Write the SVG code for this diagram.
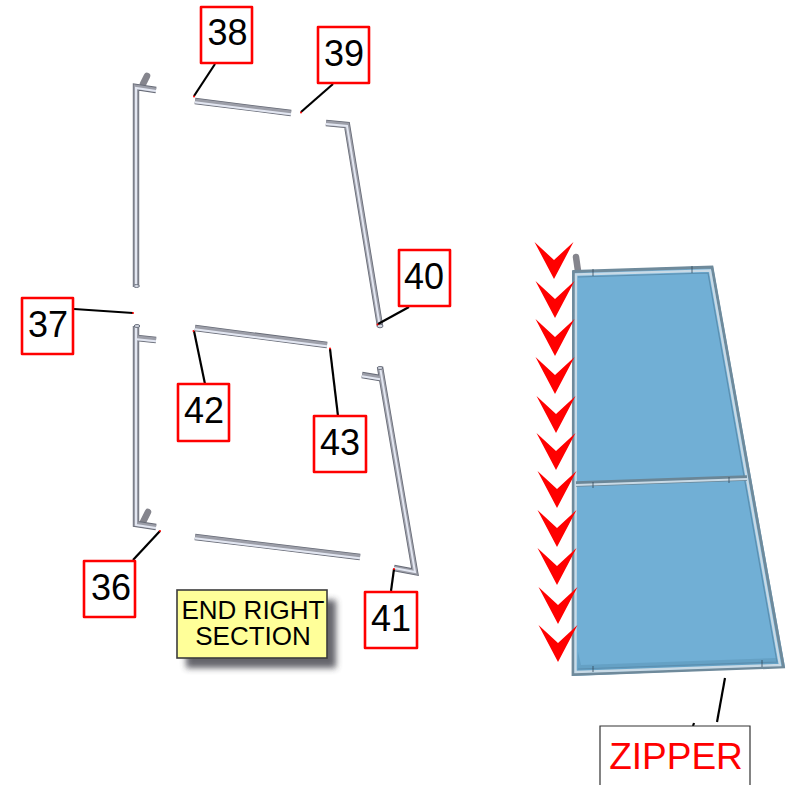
<svg xmlns="http://www.w3.org/2000/svg" width="794" height="785" viewBox="0 0 794 785">
<defs>
<filter id="sh" x="-20%" y="-20%" width="140%" height="150%"><feGaussianBlur stdDeviation="3"/></filter>
<path id="chev" d="M-19.500,-37 L0,-19 L19.500,-37 L0,0 Z" fill="#ff0000"/>
<g id="t1"><path d="M136,287 V87 L156,90"/></g>
<g id="t2"><path d="M195,101 L291,113"/></g>
<g id="t3"><path d="M326,123 L347,125 L380,326"/></g>
<g id="t4"><path d="M136,326 V524 L156,527"/></g>
<g id="t5"><path d="M137,338 L156,340"/></g>
<g id="t6"><path d="M195,328 L327,345"/></g>
<g id="t7"><path d="M380,367 L415,572 L394,568"/></g>
<g id="t8"><path d="M362,375 L380,378"/></g>
<g id="t9"><path d="M195,537 L360,557"/></g>
</defs>
<style>
.box{fill:#fff;stroke:#ff0000;stroke-width:2.6;stroke-linejoin:round}
.num{font-family:"Liberation Sans",Arial,sans-serif;font-size:36px;fill:#000;text-anchor:middle}
.lead{stroke:#000;stroke-width:2.2;fill:none}
.tO{stroke:#666a76;stroke-width:6.400;fill:none;stroke-linejoin:miter}
.tM{stroke:#9c9ea8;stroke-width:4.800;fill:none;stroke-linejoin:miter}
.tI{stroke:#e3e7f2;stroke-width:2;fill:none;stroke-linejoin:miter}
.rod{stroke:#85858d;stroke-width:6.5;fill:none;stroke-linecap:round}
.cap{fill:#d5d9e3;stroke:#6d7280;stroke-width:1}
.tip{fill:#ff0000}
</style>
<g id="parts">
<path class="rod" d="M143,84 L147,76"/>
<path class="rod" d="M143,522 L148,512"/>
<g class="tO"><use href="#t1"/><use href="#t2"/><use href="#t3"/><use href="#t4"/><use href="#t5"/><use href="#t6"/><use href="#t7"/><use href="#t8"/><use href="#t9"/></g>
<g class="tM"><use href="#t1"/><use href="#t2"/><use href="#t3"/><use href="#t4"/><use href="#t5"/><use href="#t6"/><use href="#t7"/><use href="#t8"/><use href="#t9"/></g>
<g class="tI"><use href="#t1" y="1"/><use href="#t2" y="1.300"/><use href="#t3" y="1"/><use href="#t4" y="1"/><use href="#t5" y="1.300"/><use href="#t6" y="1.300"/><use href="#t7" y="0"/><use href="#t8" y="1.300"/><use href="#t9" y="1.300"/></g>
<ellipse class="cap" cx="137" cy="326" rx="2.800" ry="1.500"/>
<ellipse class="cap" cx="380" cy="368" rx="2.800" ry="1.500"/>
<ellipse class="cap" cx="380" cy="326" rx="3" ry="1.800"/>
<ellipse class="cap" cx="136.500" cy="286" rx="2.800" ry="1.500"/>
</g>
<g id="connectors">
<path class="lead" d="M215,64 L194,96"/>
<path class="lead" d="M333,84 L301,112"/>
<path class="lead" d="M409,307 L378,324"/>
<path class="lead" d="M74,309 L133,313"/>
<path class="lead" d="M205,384 L194,331"/>
<path class="lead" d="M338,416 L330,349"/>
<path class="lead" d="M133,560 L160,531"/>
<path class="lead" d="M391,591 L394,569"/>
<path class="lead" d="M717,722 L725,678" stroke-width="1.600"/>
<path class="lead" d="M693,726 L694,723" stroke-width="1"/>
<circle class="tip" cx="194" cy="96.500" r="1"/><circle class="tip" cx="301" cy="112.500" r="1"/><circle class="tip" cx="377.500" cy="324.500" r="1"/><circle class="tip" cx="133" cy="313" r="1"/><circle class="tip" cx="193.500" cy="331" r="1"/><circle class="tip" cx="330" cy="348.500" r="1"/><circle class="tip" cx="160" cy="531" r="1"/><circle class="tip" cx="394" cy="569" r="1"/>
</g>
<g id="n38"><rect class="box" x="201" y="7" width="51" height="56"/><text class="num" x="227.500" y="45">38</text></g>
<g id="n39"><rect class="box" x="318" y="27" width="51" height="56"/><text class="num" x="344" y="66">39</text></g>
<g id="n40"><rect class="box" x="399" y="250" width="51" height="56"/><text class="num" x="424" y="289">40</text></g>
<g id="n37"><rect class="box" x="22" y="298" width="51" height="56"/><text class="num" x="48" y="337">37</text></g>
<g id="n42"><rect class="box" x="178" y="384" width="51" height="57"/><text class="num" x="204" y="423">42</text></g>
<g id="n43"><rect class="box" x="314" y="416" width="52" height="56"/><text class="num" x="340" y="455">43</text></g>
<g id="n36"><rect class="box" x="84" y="561" width="51" height="56"/><text class="num" x="111" y="600">36</text></g>
<g id="n41"><rect class="box" x="365" y="592" width="52" height="56"/><text class="num" x="391" y="631">41</text></g>
<g id="label-end">
<rect x="186" y="600" width="150" height="68" fill="#33333a" opacity=".75" filter="url(#sh)"/>
<rect x="177" y="590" width="150" height="68" fill="#ffff99" stroke="#3c3c3c" stroke-width="1.600"/>
<text font-family="Liberation Sans, Arial, sans-serif" font-size="26" text-anchor="middle"><tspan x="253" y="619">END RIGHT</tspan><tspan x="253" y="645">SECTION</tspan></text>
</g>
<g id="panel">
<path d="M578,271 L576,257" stroke="#85858d" stroke-width="6.500" stroke-linecap="round" fill="none"/>
<path d="M572,271 L713,266 L785,667 L572,676 Z" fill="#71afd5"/>
<path d="M577,672 L578,652 L581,665 L776,658 L780,667 Z" fill="#5b95b8" opacity=".55"/>
<path d="M573.500,271.500 L712,267 L783.500,667 L573,674.500 Z" fill="none" stroke="#6f8a9b" stroke-width="2.800"/>
<path d="M576,274.500 L710,270.500 L780,665 L575.500,672 Z" fill="none" stroke="#c9dae6" stroke-width="2.400"/>
<path d="M578,277 L708,273 L777,662 L578,669" fill="none" stroke="#5b8fb0" stroke-width="1.200"/>
<path d="M576,484 L747,478" stroke="#6a8697" stroke-width="5.500" fill="none"/>
<path d="M576,485 L747,479" stroke="#c9dae6" stroke-width="2" fill="none"/>
<path d="M593,269 V276 M692,266 V273 M593,482 V488 M729,477 V483 M593,666 V672 M762,660 V667" stroke="#34495a" stroke-width=".8" fill="none"/>
</g>
<g id="arrows">
<use href="#chev" x="554" y="279"/><use href="#chev" x="555" y="318"/><use href="#chev" x="555" y="356"/><use href="#chev" x="555" y="394"/><use href="#chev" x="556" y="433"/><use href="#chev" x="556" y="470"/><use href="#chev" x="557" y="508"/><use href="#chev" x="557" y="547"/><use href="#chev" x="557" y="585"/><use href="#chev" x="558" y="624"/><use href="#chev" x="558" y="662"/>
</g>
<g id="label-zipper">
<path d="M600,785 V726 H750 V785" fill="#fff" stroke="#333" stroke-width="1.200"/>
<text x="676" y="769" font-family="Liberation Sans, Arial, sans-serif" font-size="37" fill="#ff0000" text-anchor="middle">ZIPPER</text>
</g>
</svg>
